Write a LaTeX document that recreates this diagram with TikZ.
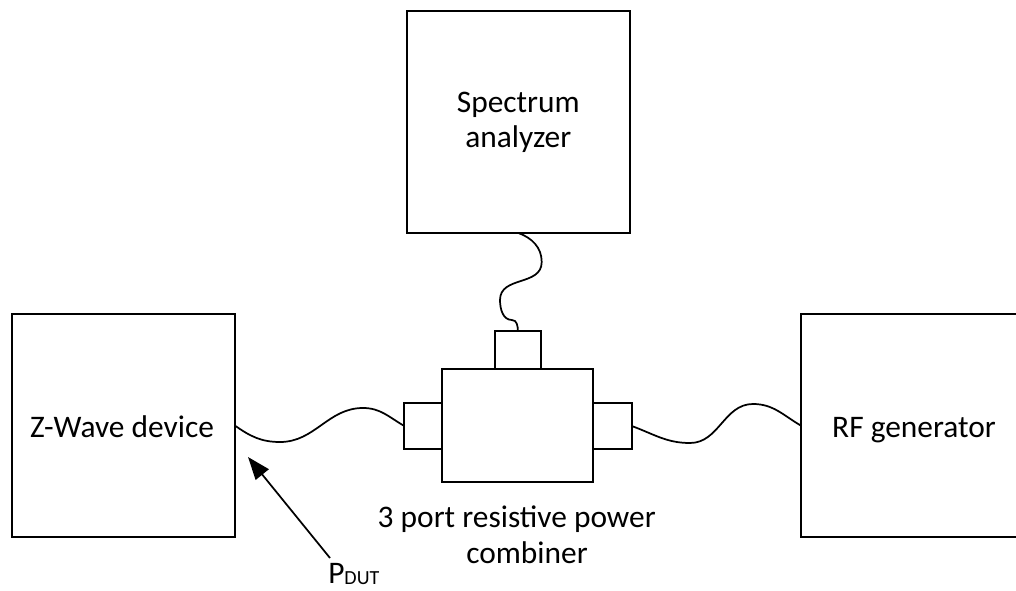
\documentclass[tikz,border=0pt]{standalone}
\usepackage{fontspec}
\setmainfont{Carlito}
\usetikzlibrary{arrows.meta}
\begin{document}
\begin{tikzpicture}[x=0.75pt,y=-0.75pt,
  box/.style={draw,line width=1.3pt,rectangle,inner sep=0pt,outer sep=0pt},
  lbl/.style={anchor=base,inner sep=0pt,font=\fontsize{23.55}{27}\selectfont},
  cable/.style={line width=1.3pt},
  ptr/.style={line width=1.3pt,-{Triangle[length=17pt,width=12.5pt]}}]
\useasboundingbox (0,0) rectangle (1016,591);
\clip (0,0) rectangle (1016,591);
% boxes
\node[box,minimum width=167.5pt,minimum height=166.7pt] (sa) at (518.35,121.85) {};
\node[box,minimum width=167.5pt,minimum height=167.5pt] (zw) at (123.35,425.65) {};
\node[box,minimum width=169.5pt,minimum height=167.5pt] (rf) at (914,425.65) {};
\node[box,minimum width=113.25pt,minimum height=85pt] (pc) at (517.8,425.65) {};
\node[box,minimum width=34.3pt,minimum height=28.5pt] (tport) at (517.85,350) {};
\node[box,minimum width=28.5pt,minimum height=34.5pt] (lport) at (423.3,426) {};
\node[box,minimum width=28.8pt,minimum height=34.5pt] (rport) at (612.5,426) {};
% texts
\node[lbl] (tsa1) at (518.3,113) {Spectrum};
\node[lbl] (tsa2) at (518.3,148) {analyzer};
\node[lbl] (tzw) at (122,437) {Z-Wave device};
\node[lbl] (trf) at (914,437) {RF generator};
\node[lbl] (tc1) at (516.7,527) {3 port resistive power};
\node[lbl] (tc2) at (527,563) {combiner};
\node[lbl,anchor=base west] (tpdut) at (328,583) {P{\fontsize{15}{15}\selectfont\raisebox{-1pt}{DUT}}};
% cables
\draw[cable] (sa.south) to[out=-20,in=90] (541.7,262) to[out=-90,in=90,looseness=1.1] (500,300) to[out=-90,in=180] (512,320) to[out=0,in=90] (tport.north);
\draw[cable] (zw.east) to[out=-35,in=180] (280,442) to[out=0,in=180] (363,408) to[out=0,in=150] (lport.west);
\draw[cable] (rport.east) to[out=-20,in=180] (690,443) to[out=0,in=180] (753,404) to[out=0,in=150] (rf.west);
% arrow
\coordinate (tail) at (330,558);
\coordinate (tip) at (248,457);
\draw[ptr] (tail) -- (tip);
\end{tikzpicture}
\end{document}
